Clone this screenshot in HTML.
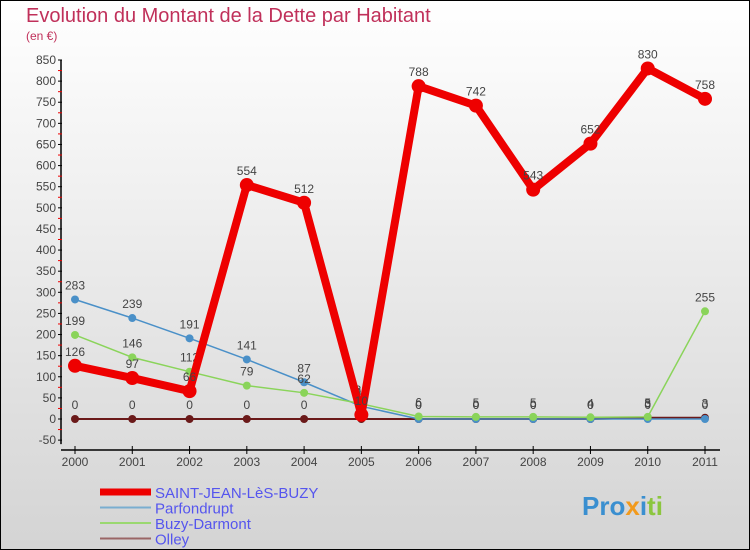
<!DOCTYPE html>
<html><head><meta charset="utf-8"><style>
body{margin:0;width:750px;height:550px;overflow:hidden;font-family:"Liberation Sans",sans-serif}
#wrap{position:absolute;left:0;top:0;width:748px;height:548px;border:1px solid #000;background:linear-gradient(#fff,#d4d4d4)}
</style></head><body>
<div id="wrap">
<svg id="chart" width="750" height="550" style="position:absolute;left:-1px;top:-1px">
<text x="26" y="22" font-size="20" fill="#c0305a">Evolution du Montant de la Dette par Habitant</text>
<text x="26" y="40" font-size="12" fill="#c0305a">(en €)</text>
<g id="axes"></g><g id="series"></g><g id="legend"></g>
<text x="582" y="515" font-size="26" font-weight="bold" fill="#3a8fd0">Pro<tspan fill="#f29a1c">x</tspan><tspan fill="#3a8fd0">i</tspan><tspan fill="#8cc63f">ti</tspan></text>
</svg></div>
<script>
const years=[2000,2001,2002,2003,2004,2005,2006,2007,2008,2009,2010,2011];
const yTicks=[-50,0,50,100,150,200,250,300,350,400,450,500,550,600,650,700,750,800,850];
const saint=[126,97,66,554,512,10,788,742,543,652,830,758];
const parf=[283,239,191,141,87,30,0,0,0,0,0,0];
const buzy=[199,146,112,79,62,36,6,5,5,4,5,255];
const olley=[0,0,0,0,0,0,0,0,0,0,3,3];
const NS='http://www.w3.org/2000/svg';
const X=i=>75+i*(630/11);
const Y=v=>419-v*(359/850);
function mk(p,t,a){const e=document.createElementNS(NS,t);for(const k in a)e.setAttribute(k,a[k]);p.appendChild(e);return e;}
const ax=document.getElementById('axes');
let l=mk(ax,'line',{x1:61,y1:Y(850),x2:61,y2:Y(-50)+4,stroke:'#000','stroke-width':1.5});


l=mk(ax,'line',{x1:61,y1:450,x2:720,y2:450,stroke:'#000','stroke-width':1.5});


yTicks.forEach((v,i)=>{
 mk(ax,'line',{x1:58,y1:Y(v),x2:62,y2:Y(v),stroke:'#000'});
 if(i<yTicks.length-1)mk(ax,'line',{x1:58,y1:Y(v+25),x2:62,y2:Y(v+25),stroke:'#e00'});
 const t=mk(ax,'text',{x:56,y:Y(v)+4,'text-anchor':'end','font-size':12,fill:'#444'});
 t.textContent=v;
 
 
});
years.forEach((y,i)=>{
 mk(ax,'line',{x1:X(i),y1:446,x2:X(i),y2:454,stroke:'#000'});
 const t=mk(ax,'text',{x:X(i),y:466,'text-anchor':'middle','font-size':12,fill:'#444'});
 t.textContent=y;
 
 
});
const se=document.getElementById('series');
function draw(vals,col,w,r,name,labels){
 const g=mk(se,'g',{});
 
 
 mk(g,'polyline',{points:vals.map((v,i)=>X(i)+','+Y(v)).join(' '),fill:'none',stroke:col,'stroke-width':w,'stroke-linejoin':'round'});
 vals.forEach((v,i)=>{
  const c=mk(g,'circle',{cx:X(i),cy:Y(v),r:r,fill:col});
  
  
  if(labels){const t=mk(g,'text',{x:X(i),y:Y(v)-10,'text-anchor':'middle','font-size':12,fill:'#444'});t.textContent=v;}
 });
}
draw(olley,'#6b1a1a',2,4,'series-olley',true);
draw(parf,'#4a90c8',1.5,4,'series-parfondrupt',true);
draw(buzy,'#8ad45a',1.5,4,'series-buzy-darmont',true);
draw(saint,'#e00',8,7,'series-saint-jean',true);
const lg=document.getElementById('legend');
[['SAINT-JEAN-LèS-BUZY','#e00',7],['Parfondrupt','#7aaed0',2],['Buzy-Darmont','#9ad870',2],['Olley','#9a6666',2]].forEach((d,i)=>{
 const y=492+i*15.5;
 const g=mk(lg,'g',{});
 
 
 mk(g,'line',{x1:100,y1:y,x2:151,y2:y,stroke:d[1],'stroke-width':d[2]});
 const t=mk(g,'text',{x:155,y:y+6,'font-size':15,fill:'#5555ee'});t.textContent=d[0];
});
</script>
</body></html>
